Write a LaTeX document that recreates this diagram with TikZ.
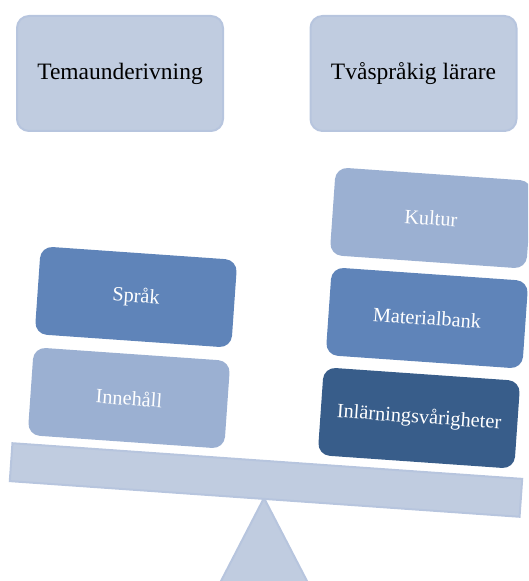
\documentclass[tikz,border=0pt]{standalone}
\usepackage{fontspec}
\setmainfont{Liberation Serif}
\definecolor{paleblue}{HTML}{C0CCE0}
\definecolor{paleedge}{HTML}{B7C5DE}
\definecolor{lightblue}{HTML}{9BB0D2}
\definecolor{midblue}{HTML}{5F84B9}
\definecolor{darkblue}{HTML}{385D8A}

\begin{document}
\begin{tikzpicture}[x=1pt,y=1pt,
  topbox/.style={draw=paleedge,line width=2pt,fill=paleblue,rounded corners=12pt,
    minimum width=206pt,minimum height=115pt,
    font=\fontsize{23.5}{27}\selectfont},
  weight/.style={rounded corners=12pt,minimum width=197pt,minimum height=88pt,
    text=white,rotate=-4,font=\fontsize{20.3}{24}\selectfont}]
  \useasboundingbox (0,0) rectangle (528,581);
  \clip (0,0) rectangle (528,581);
  % fulcrum and beam
  \draw[paleedge,line width=2pt,fill=paleblue] (220,-2) -- (264,83) -- (308,-2) -- cycle;
  \node[draw=paleedge,line width=2pt,fill=paleblue,rotate=-4,
    minimum width=511pt,minimum height=38pt] (beam) at (266,101) {};
  % headings
  \node[topbox] (tema) at (120,507.5) {Temaunderivning};
  \node[topbox] (larare) at (413.5,507.5) {Tvåspråkig lärare};
  % left pan
  \node[weight,fill=lightblue] (innehall) at (129,183) {Innehåll};
  \node[weight,fill=midblue] (sprak) at (136,284) {Språk};
  % right pan
  \node[weight,fill=darkblue] (inlarning) at (419,163) {Inlärningsvårigheter};
  \node[weight,fill=midblue] (material) at (427,263) {Materialbank};
  \node[weight,fill=lightblue] (kultur) at (431,363) {Kultur};
\end{tikzpicture}
\end{document}
